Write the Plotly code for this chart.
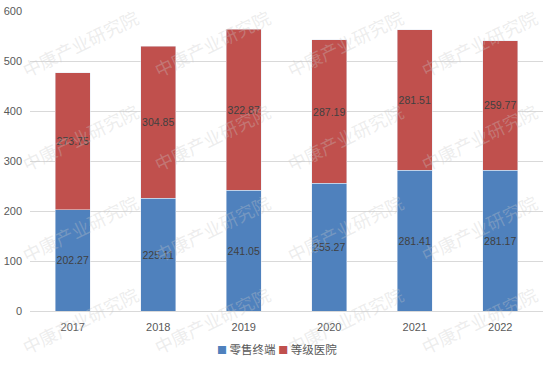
import plotly.graph_objects as go

years = ["2017", "2018", "2019", "2020", "2021", "2022"]
retail = [202.27, 225.11, 241.05, 255.27, 281.41, 281.17]
hospital = [273.75, 304.85, 322.87, 287.19, 281.51, 259.77]
series_names = ["零售终端", "等级医院"]
y_ticks = [0, 100, 200, 300, 400, 500, 600]
watermark = "中康产业研究院"

BLUE = "#4F81BD"
RED = "#C0504D"
FONT = "Liberation Sans, Noto Sans CJK SC, sans-serif"

W, H = 554, 367
L, R, T, B = 30, 11, 11, 56
PW, PH = W - L - R, H - T - B

fig = go.Figure()
for vals, name, col in [(retail, series_names[0], BLUE), (hospital, series_names[1], RED)]:
    fig.add_trace(go.Bar(
        x=years, y=vals, name=name, marker_color=col,
        text=[f"{v:.2f}" for v in vals], textposition="inside",
        insidetextanchor="middle", textangle=0, constraintext="none",
        textfont=dict(size=10.5, color="#404040", family=FONT),
    ))

def px2paper(px, py):
    return (px - L) / PW, (H - B - py) / PH

# watermark tiles
wm_x = [80, 212, 345, 479]
wm_y = [43, 137, 228, 320]
for px in wm_x:
    for py in wm_y:
        x, y = px2paper(px, py)
        fig.add_annotation(
            x=x, y=y, xref="paper", yref="paper",
            text=watermark, showarrow=False, textangle=-26,
            font=dict(size=18, color="rgba(200,200,200,0.33)", family="Noto Sans CJK SC"),
            xanchor="center", yanchor="middle",
        )

# legend (drawn as text)
lx, ly = px2paper(277, 349)
fig.add_annotation(
    x=lx, y=ly, xref="paper", yref="paper", showarrow=False,
    xanchor="center", yanchor="middle",
    text=(f'<span style="color:{BLUE};font-size:10px">■</span> {series_names[0]} '
          f'<span style="color:{RED};font-size:10px">■</span> {series_names[1]}'),
    font=dict(size=11.5, color="#595959", family="Noto Sans CJK SC"),
)

fig.update_layout(
    width=W, height=H,
    margin=dict(l=L, r=R, t=T, b=B, autoexpand=False),
    barmode="stack", bargap=0.595,
    paper_bgcolor="white", plot_bgcolor="white",
    font=dict(family=FONT, size=11, color="#595959"),
    showlegend=False,
)
fig.update_yaxes(range=[0, 600], tickvals=y_ticks, showgrid=True,
                 gridcolor="#D9D9D9", gridwidth=1, zeroline=False,
                 showline=False, ticks="", ticklabelstandoff=7, automargin=False,
                 tickfont=dict(size=11, color="#595959"))
fig.update_xaxes(showline=True, linecolor="#D9D9D9", linewidth=1, ticks="",
                 ticklabelstandoff=6, automargin=False,
                 tickfont=dict(size=11, color="#595959"))

fig.write_html("out.html", config={"displayModeBar": False},
               post_script="document.body.style.margin='0';")
